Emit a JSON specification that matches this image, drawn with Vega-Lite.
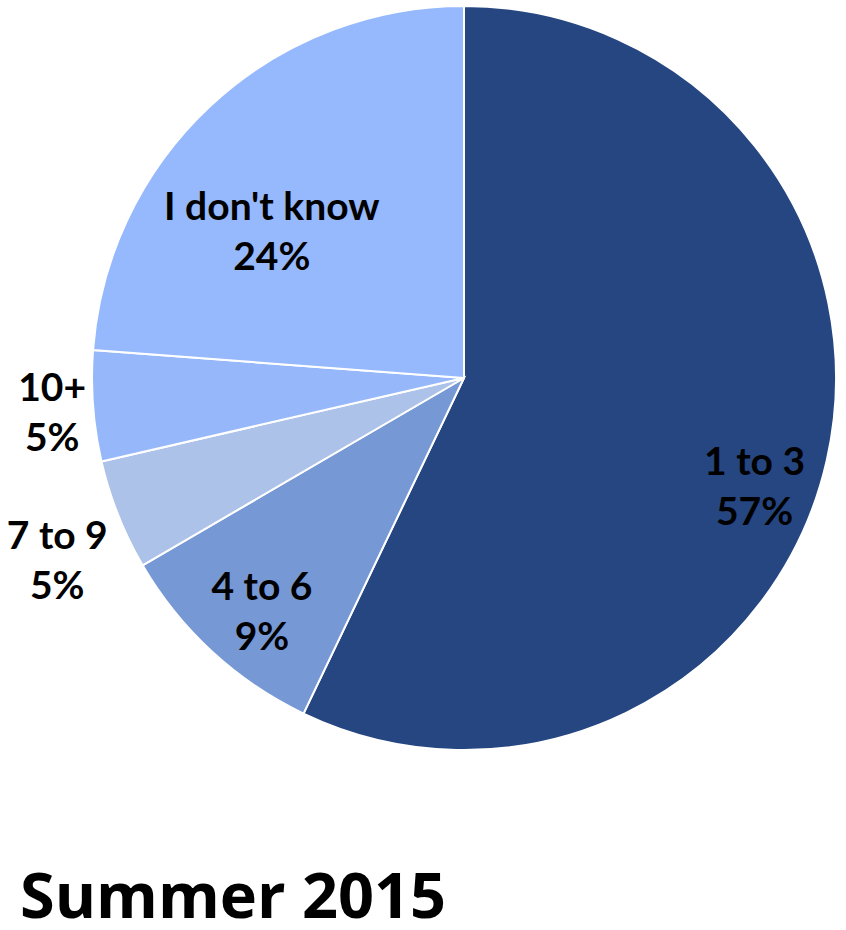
{
  "$schema": "https://vega.github.io/schema/vega-lite/v6.json",
  "width": 744,
  "height": 744,
  "autosize": {"type": "none"},
  "padding": {"left": 92, "top": 6, "right": 10, "bottom": 180},
  "background": "white",
  "view": {"stroke": null},
  "title": {
    "text": "Summer 2015",
    "orient": "bottom",
    "anchor": "start",
    "frame": "group",
    "baseline": "alphabetic",
    "offset": 164,
    "dx": -72,
    "font": "Open Sans",
    "fontSize": 63,
    "fontWeight": "bold",
    "color": "black"
  },
  "data": {
    "values": [
      {"category": "1 to 3", "rank": 1, "share": 57.1, "label": "1 to 3\n57%"},
      {"category": "4 to 6", "rank": 2, "share": 9.5, "label": "4 to 6\n9%"},
      {"category": "7 to 9", "rank": 3, "share": 4.8, "label": "7 to 9\n5%"},
      {"category": "10+", "rank": 4, "share": 4.8, "label": "10+\n5%"},
      {"category": "I don't know", "rank": 5, "share": 23.8, "label": "I don't know\n24%"}
    ]
  },
  "encoding": {
    "theta": {"field": "share", "type": "quantitative", "stack": true},
    "order": {"field": "rank", "type": "ordinal"}
  },
  "layer": [
    {
      "mark": {"type": "arc", "stroke": "white", "strokeWidth": 2},
      "encoding": {
        "color": {
          "field": "category",
          "type": "nominal",
          "scale": {
            "domain": ["1 to 3", "4 to 6", "7 to 9", "10+", "I don't know"],
            "range": ["#254681", "#7698D5", "#ADC2E8", "#96B8FA", "#96B9FE"]
          },
          "legend": null
        }
      }
    },
    {
      "mark": {"type": "text", "radius": 300, "dx": -2, "dy": 19, "font": "Lato", "fontSize": 39, "fontWeight": "bold", "lineBreak": "\n", "lineHeight": 50, "baseline": "middle", "align": "center", "color": "black"},
      "encoding": {"text": {"condition": {"test": "datum.category === '1 to 3'", "field": "label"}, "value": ""}}
    },
    {
      "mark": {"type": "text", "radius": 310, "dx": 8, "dy": -18, "font": "Lato", "fontSize": 39, "fontWeight": "bold", "lineBreak": "\n", "lineHeight": 50, "baseline": "middle", "align": "center", "color": "black"},
      "encoding": {"text": {"condition": {"test": "datum.category === '4 to 6'", "field": "label"}, "value": ""}}
    },
    {
      "mark": {"type": "text", "radius": 445, "dx": 7, "dy": -5, "font": "Lato", "fontSize": 39, "fontWeight": "bold", "lineBreak": "\n", "lineHeight": 50, "baseline": "middle", "align": "center", "color": "black"},
      "encoding": {"text": {"condition": {"test": "datum.category === '7 to 9'", "field": "label"}, "value": ""}}
    },
    {
      "mark": {"type": "text", "radius": 413, "dx": 0, "dy": -20, "font": "Lato", "fontSize": 39, "fontWeight": "bold", "lineBreak": "\n", "lineHeight": 50, "baseline": "middle", "align": "center", "color": "black"},
      "encoding": {"text": {"condition": {"test": "datum.category === '10+'", "field": "label"}, "value": ""}}
    },
    {
      "mark": {"type": "text", "radius": 240, "dx": -29, "dy": 6, "font": "Lato", "fontSize": 39, "fontWeight": "bold", "lineBreak": "\n", "lineHeight": 50, "baseline": "middle", "align": "center", "color": "black"},
      "encoding": {"text": {"condition": {"test": "datum.category === \"I don't know\"", "field": "label"}, "value": ""}}
    }
  ]
}
